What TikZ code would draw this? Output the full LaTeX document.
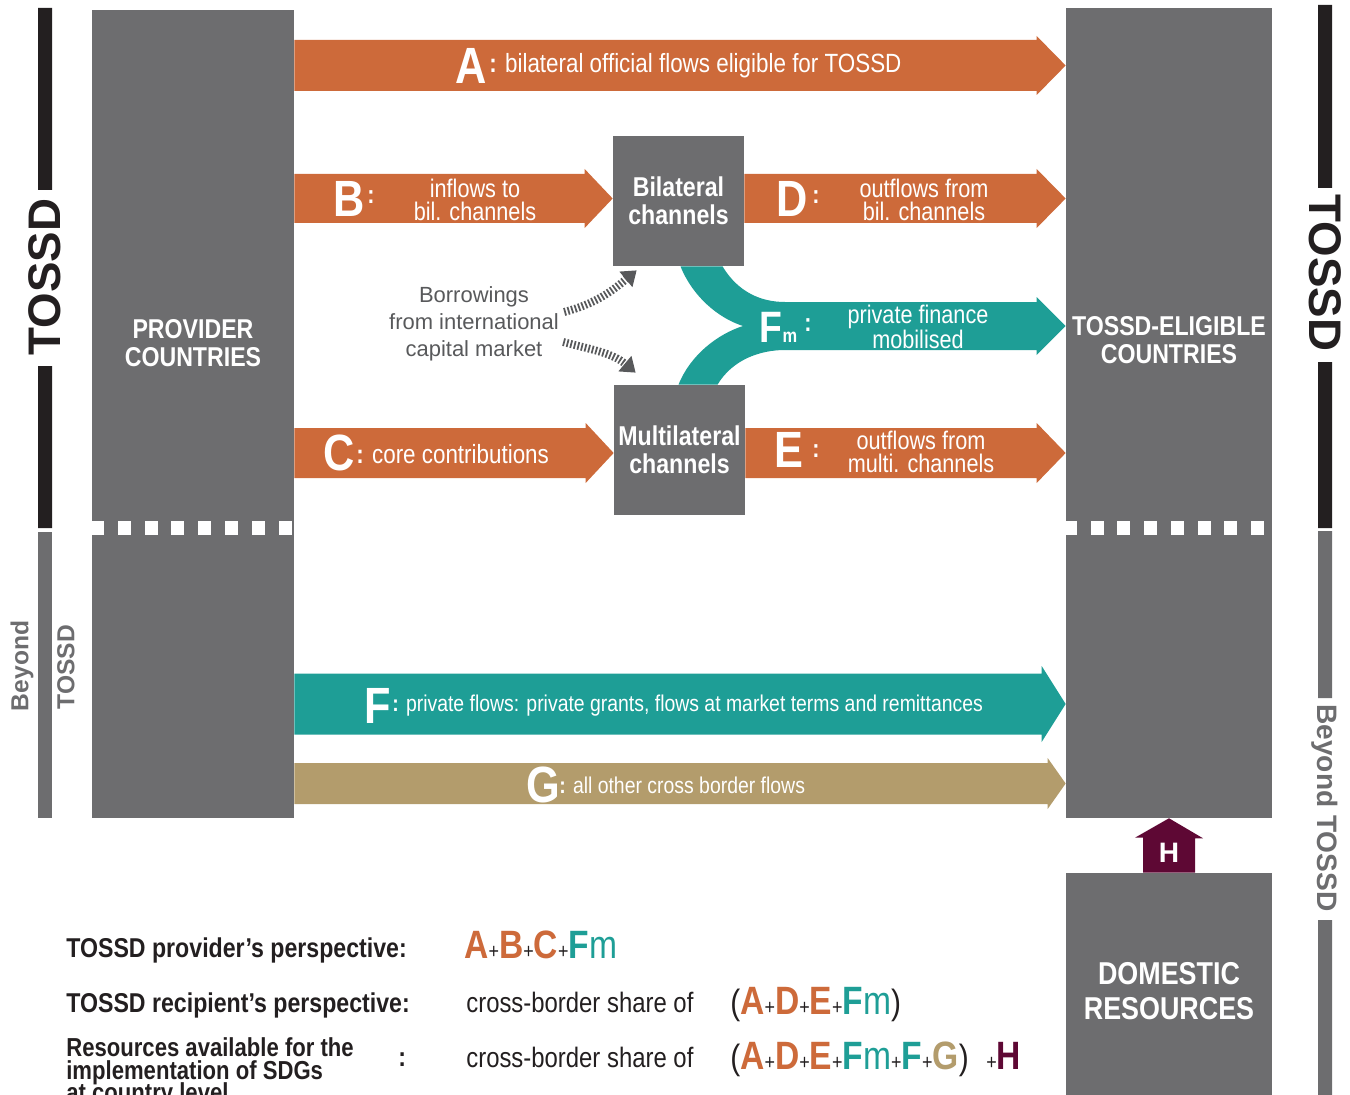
\documentclass[tikz,border=0pt]{standalone}
\usepackage{fontspec}
\setmainfont{Liberation Sans}
\newfontfamily\condfont{Liberation Sans}[FakeStretch=0.85]
\usetikzlibrary{calc,arrows.meta}

\definecolor{boxgray}{RGB}{109,109,111}
\definecolor{tossdblack}{RGB}{35,31,32}
\definecolor{flowor}{RGB}{205,106,58}
\definecolor{flowteal}{RGB}{30,158,150}
\definecolor{flowtan}{RGB}{179,156,108}
\definecolor{flowmaroon}{RGB}{94,8,52}
\definecolor{borrowgray}{RGB}{88,89,91}

% block arrow: colour, start, tip, half body, half head, head length
\newcommand{\flowarrow}[6]{%
  \fill[#1] ($(#2)+(0,-#4)$) -- ($(#3)+(-#6,-#4)$) -- ($(#3)+(-#6,-#5)$) -- (#3)
    -- ($(#3)+(-#6,#5)$) -- ($(#3)+(-#6,#4)$) -- ($(#2)+(0,#4)$) -- cycle;}
\newcommand{\fx}[2]{\textcolor{#1}{#2}}
\newcommand{\pls}{{\fontsize{12}{12}\selectfont\mdseries\color{tossdblack}+}}
\newcommand{\prn}[1]{{\fontsize{20}{20}\selectfont\mdseries\color{tossdblack}#1}}

\begin{document}
\begin{tikzpicture}[x=0.02cm, y=-0.02cm,
  box/.style={fill=boxgray, inner sep=0pt},
  boxtext/.style={text=white, align=center, inner sep=0pt, font=\condfont\bfseries\fontsize{15.5}{16}\selectfont},
  flowletter/.style={text=white, inner sep=0pt, font=\condfont\bfseries\fontsize{29}{29}\selectfont},
  flowtext/.style={text=white, align=center, inner sep=0pt, font=\condfont\fontsize{14.5}{13}\selectfont},
  sidetext/.style={inner sep=0pt, text=boxgray, font=\bfseries\fontsize{16}{16}\selectfont},
  borrow/.style={draw=borrowgray, line width=4.5pt, dash pattern=on 1pt off 1.1pt, -{Triangle[length=8pt,width=11pt]}},
  lbl/.style={anchor=base west, inner sep=0pt, text=tossdblack, font=\condfont\bfseries\fontsize{15.5}{15.5}\selectfont},
  formula/.style={anchor=base west, inner sep=0pt, text=tossdblack, font=\condfont\bfseries\fontsize{22.5}{22.5}\selectfont}
]
\useasboundingbox (0,0) rectangle (1350,1095);

% side bars
\fill[tossdblack] (38,8) rectangle (52,190) (38,366) rectangle (52,528);
\fill[boxgray] (38,532) rectangle (52,818);
\node[rotate=90, inner sep=0pt, text=tossdblack, font=\bfseries\fontsize{26}{26}\selectfont] (tossdL) at (45,277) {TOSSD};
\node[sidetext, rotate=90, font=\bfseries\fontsize{14}{14}\selectfont] (beyondL) at (22,666) {Beyond};
\node[sidetext, rotate=90, font=\bfseries\fontsize{14}{14}\selectfont] (tossdLs) at (66,667) {TOSSD};

\fill[tossdblack] (1318,5) rectangle (1332,188) (1318,362) rectangle (1332,528);
\fill[boxgray] (1318,531) rectangle (1332,698) (1318,920) rectangle (1332,1095);
\node[rotate=-90, inner sep=0pt, text=tossdblack, font=\bfseries\fontsize{26}{26}\selectfont] (tossdR) at (1325,273) {TOSSD};
\node[sidetext, rotate=-90] (beyondR) at (1325,808) {Beyond TOSSD};

% boxes
\node[box, minimum width=4.04cm, minimum height=16.16cm] (prov) at (193,414) {};
\node[box, minimum width=4.12cm, minimum height=16.2cm] (elig) at (1169,413) {};
\node[box, minimum width=4.12cm, minimum height=4.6cm] (dom) at (1169,988) {};
\node[box, minimum width=2.62cm, minimum height=2.6cm] (bil) at (678.5,201) {};
\node[box, minimum width=2.62cm, minimum height=2.6cm] (mul) at (679.5,450) {};

\node[boxtext] (provtext) at (193,343) {PROVIDER\\COUNTRIES};
\node[boxtext] (eligtext) at (1169,340) {TOSSD-ELIGIBLE\\COUNTRIES};
\node[boxtext, font=\condfont\bfseries\fontsize{18}{20}\selectfont] (domtext) at (1169,991) {DOMESTIC\\RESOURCES};
\node[boxtext] (biltext) at (bil) {Bilateral\\channels};
\node[boxtext] (multext) at (mul) {Multilateral\\channels};

\foreach \i in {0,...,7} {
  \fill[white] (91+26.8*\i,521) rectangle ++(13,14);
  \fill[white] (1064+26.7*\i,521) rectangle ++(13,14);
}

% flows
\coordinate (lvA) at (0,65.5);
\coordinate (lvB) at (0,198.5);
\coordinate (lvC) at (0,453);
\coordinate (lvFm) at (0,326);
\coordinate (lvF) at (0,704);
\coordinate (lvG) at (0,783.5);

\flowarrow{flowor}{prov.east |- lvA}{elig.west |- lvA}{25.5}{29.5}{29}
\flowarrow{flowor}{prov.east |- lvB}{bil.west |- lvB}{24.5}{29.5}{28}
\flowarrow{flowor}{bil.east |- lvB}{elig.west |- lvB}{24.5}{29.5}{29}
\flowarrow{flowor}{prov.east |- lvC}{mul.west |- lvC}{25}{30}{28}
\flowarrow{flowor}{mul.east |- lvC}{elig.west |- lvC}{25}{30}{29}
\flowarrow{flowteal}{prov.east |- lvF}{elig.west |- lvF}{30.5}{38}{24}
\flowarrow{flowtan}{prov.east |- lvG}{elig.west |- lvG}{20.5}{25.5}{18}

\fill[flowteal] ($(bil.south)+(2,0)$) .. controls +(12,30) and +(-25,-8) .. (743,326)
  .. controls +(-25,8) and +(12,-30) .. ($(mul.north)+(-1,0)$) -- ($(mul.north)+(38,0)$)
  .. controls +(15,-25) and +(-25,0) .. (785,350) -- ($(elig.west |- lvFm)+(-29,24)$)
  -- ($(elig.west |- lvFm)+(-29,29)$) -- (elig.west |- lvFm) -- ($(elig.west |- lvFm)+(-29,-29)$)
  -- ($(elig.west |- lvFm)+(-29,-24)$) -- (785,302) .. controls +(-25,0) and +(15,25) .. ($(bil.south)+(44,0)$) -- cycle;

\node[flowletter] (letA) at (471,66) {A};
\node[flowtext, anchor=west, font=\condfont\fontsize{15}{15}\selectfont] (txtA) at (489,66) {\textbf{:} bilateral official flows eligible for TOSSD};
\node[flowletter] (letB) at (349,199) {B};
\node[flowtext] (colB) at (371,197) {\textbf{:}};
\node[flowtext] (txtB) at (475,200) {inflows to\\bil. channels};
\node[flowletter] (letD) at (792,199) {D};
\node[flowtext] (colD) at (816,197) {\textbf{:}};
\node[flowtext] (txtD) at (924,200) {outflows from\\bil. channels};
\node[flowletter] (letC) at (339,453) {C};
\node[flowtext, anchor=west, font=\condfont\fontsize{15}{15}\selectfont] (txtC) at (356,454) {\textbf{:} core contributions};
\node[flowletter] (letE) at (789,450) {E};
\node[flowtext] (colE) at (816,451) {\textbf{:}};
\node[flowtext] (txtE) at (921,452) {outflows from\\multi. channels};
\node[flowletter, font=\condfont\bfseries\fontsize{25}{25}\selectfont] (letFm) at (771,327) {F};
\node[flowtext, font=\condfont\bfseries\fontsize{11}{11}\selectfont] (subFm) at (790,337) {m};
\node[flowtext] (colFm) at (808,325) {\textbf{:}};
\node[flowtext] (txtFm) at (918,327) {private finance\\mobilised};
\node[flowletter] (letF) at (378,706) {F};
\node[flowtext, anchor=west, font=\condfont\fontsize{13}{13}\selectfont] (txtF) at (392,706) {\textbf{:} private flows: private grants, flows at market terms and remittances};
\node[flowletter] (letG) at (543,785) {G};
\node[flowtext, anchor=west, font=\condfont\fontsize{13}{13}\selectfont] (txtG) at (559,785) {\textbf{:} all other cross border flows};

% borrowings
\node[inner sep=0pt, align=center, text=borrowgray, font=\fontsize{12.5}{15.3}\selectfont] (bor) at (474,324) {Borrowings\\from international\\capital market};
\draw[borrow] ($(bor.east)+(5,-12)$) to[out=15,in=220] ($(bil.south west)+(24,4)$);
\draw[borrow] ($(bor.east)+(4,18)$) to[out=-15,in=140] ($(mul.north west)+(22,-12)$);

% domestic resources
\fill[flowmaroon] ($(dom.north)+(-26,0)$) -- ++(0,-35) -- ++(-8,0) -- (elig.south) -- ++(34,20) -- ++(-8,0) -- ($(dom.north)+(26,0)$) -- cycle;
\node[inner sep=0pt, text=white, font=\bfseries\fontsize{16}{16}\selectfont] (letH) at (1169,853) {H};

% perspectives
\node[lbl] (persP) at (66,957) {TOSSD provider’s perspective:};
\node[formula] (formP) at (464,958) {\fx{flowor}{A}\pls\fx{flowor}{B}\pls\fx{flowor}{C}\pls\fx{flowteal}{F\mdseries m}};
\node[lbl] (persR) at (66,1012) {TOSSD recipient’s perspective:};
\node[lbl, font=\condfont\fontsize{16}{16}\selectfont] (shareR) at (466,1012) {cross-border share of};
\node[formula] (formR) at (730,1014) {\prn{(}\fx{flowor}{A}\pls\fx{flowor}{D}\pls\fx{flowor}{E}\pls\fx{flowteal}{F\mdseries m}\prn{)}};
\node[lbl, font=\condfont\bfseries\fontsize{14.8}{14.8}\selectfont] (resA) at (66,1056) {Resources available for the};
\node[lbl, font=\condfont\bfseries\fontsize{14.8}{14.8}\selectfont] (resB) at (66,1079) {implementation of SDGs};
\node[lbl, font=\condfont\bfseries\fontsize{14.8}{14.8}\selectfont] (resC) at (66,1101) {at country level};
\node[lbl] (resColon) at (398,1066) {:};
\node[lbl, font=\condfont\fontsize{16}{16}\selectfont] (shareS) at (466,1067) {cross-border share of};
\node[formula] (formS) at (730,1069) {\prn{(}\fx{flowor}{A}\pls\fx{flowor}{D}\pls\fx{flowor}{E}\pls\fx{flowteal}{F\mdseries m}\pls\fx{flowteal}{F}\pls\fx{flowtan}{G}\prn{)}\hspace{10pt}\pls\fx{flowmaroon}{H}};

\end{tikzpicture}
\end{document}
